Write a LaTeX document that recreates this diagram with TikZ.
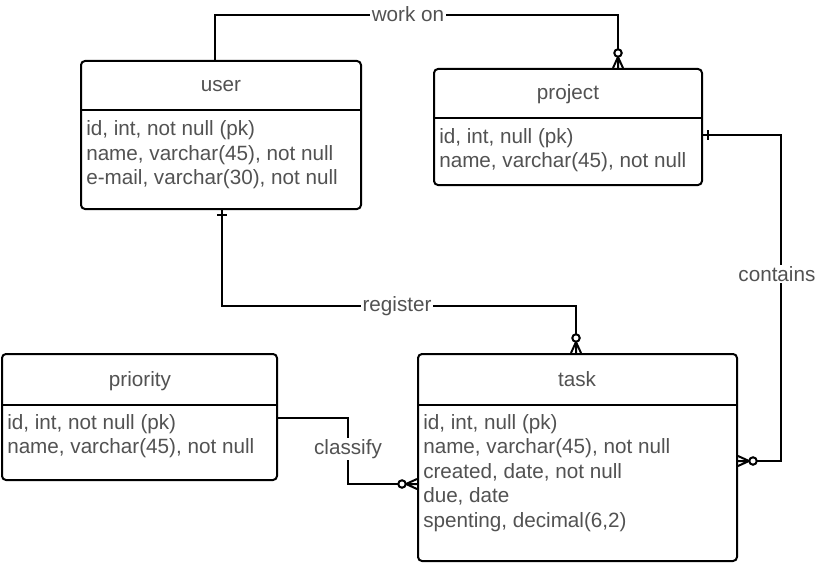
\documentclass[tikz,border=0pt]{standalone}
\usepackage{fontspec}
\setmainfont{Liberation Sans}
\begin{document}
\begin{tikzpicture}[x=0.75pt,y=-0.75pt,
  box/.style={draw=black, line width=1.5pt, rounded corners=3pt, fill=white, inner sep=0pt},
  divider/.style={draw=black, line width=1.5pt},
  txt/.style={text=black!68, font=\fontsize{15.5}{18}\selectfont, inner sep=0pt},
  title/.style={txt, anchor=base},
  attr/.style={txt, anchor=base west},
  rel/.style={draw=black, line width=1.5pt},
  lbl/.style={txt, fill=white, inner sep=1pt},
  zeromany/.pic={
    \draw[line width=1.5pt] (-11,0) -- (0,-5) (-11,0) -- (0,0) (-11,0) -- (0,5);
    \draw[line width=1.5pt, fill=white] (-15,0) circle (2.8pt);
  },
  one/.pic={
    \draw[line width=1.5pt] (-5,-5) -- (-5,5);
  }
]
\useasboundingbox (0,0) rectangle (820,563);

% entity boxes
\node[box, minimum width=210pt, minimum height=111pt] (user) at (221,135) {};
\node[box, minimum width=201pt, minimum height=87pt] (project) at (568,127) {};
\node[box, minimum width=206.25pt, minimum height=94.5pt] (priority) at (139.5,417) {};
\node[box, minimum width=239.25pt, minimum height=155.25pt] (task) at (577.5,457.5) {};

% header dividers
\coordinate (du) at (0,110);
\coordinate (dp) at (0,118);
\coordinate (dr) at (0,405);
\coordinate (dt) at (0,405);
\draw[divider] (user.west |- du) -- (user.east |- du);
\draw[divider] (project.west |- dp) -- (project.east |- dp);
\draw[divider] (priority.west |- dr) -- (priority.east |- dr);
\draw[divider] (task.west |- dt) -- (task.east |- dt);

% titles
\node[title] (usertitle) at (221,92) {user};
\node[title] (projecttitle) at (568,100) {project};
\node[title] (prioritytitle) at (140,386) {priority};
\node[title] (tasktitle) at (577,386) {task};

% attributes
\node[attr] (u1) at (86,136) {id, int, not null (pk)};
\node[attr] (u2) at (86,160.5) {name, varchar(45), not null};
\node[attr] (u3) at (86,185) {e-mail, varchar(30), not null};

\node[attr] (p1) at (439,143) {id, int, null (pk)};
\node[attr] (p2) at (439,167.5) {name, varchar(45), not null};

\node[attr] (r1) at (7,429) {id, int, not null (pk)};
\node[attr] (r2) at (7,453.5) {name, varchar(45), not null};

\node[attr] (t1) at (423,429) {id, int, null (pk)};
\node[attr] (t2) at (423,453.5) {name, varchar(45), not null};
\node[attr] (t3) at (423,478) {created, date, not null};
\node[attr] (t4) at (423,502.5) {due, date};
\node[attr] (t5) at (423,527) {spenting, decimal(6,2)};

% routing points
\coordinate (wa) at (215,15);
\coordinate (wb) at (618,15);
\coordinate (ra) at (222,306);
\coordinate (rb) at (576,306);
\coordinate (ca) at (781,135);
\coordinate (cb) at (781,461);
\coordinate (ka) at (348,418);
\coordinate (kb) at (348,484);

% relationships
\draw[rel] (user.north -| wa) -- (wa) -- (wb) -- (project.north -| wb);
\draw[rel] (user.south -| ra) -- (ra) -- (rb) -- (task.north -| rb);
\draw[rel] (project.east |- ca) -- (ca) -- (cb) -- (task.east |- cb);
\draw[rel] (priority.east |- ka) -- (ka) -- (kb) -- (task.west |- kb);

% cardinality marks
\pic[rotate=-90] at (project.north -| wb) {zeromany};
\pic[rotate=-90] at (task.north -| rb) {zeromany};
\pic[rotate=180] at (task.east |- cb) {zeromany};
\pic at (task.west |- kb) {zeromany};
\pic[rotate=90] at (user.south -| ra) {one};
\pic[rotate=180] at (project.east |- ca) {one};

% relationship labels
\node[lbl] (lwork) at (408,14) {work on};
\node[lbl] (lreg) at (397,306) {register};
\node[lbl, anchor=east] (lcont) at (817,274) {contains};
\node[lbl] (lcls) at (348,449) {classify};
\end{tikzpicture}
\end{document}
